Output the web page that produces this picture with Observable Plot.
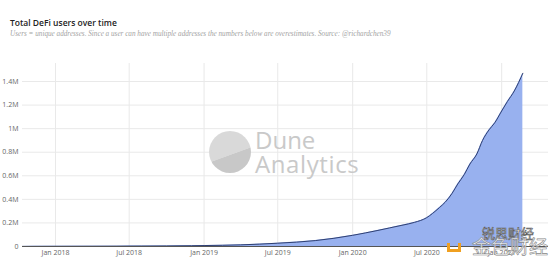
<!DOCTYPE html>
<html>
<head>
<meta charset="utf-8">
<script src="https://cdn.jsdelivr.net/npm/d3@7"></script>
<script src="https://cdn.jsdelivr.net/npm/@observablehq/plot@0.6"></script>
<style>
  html, body { margin: 0; padding: 0; background: #fff; }
  #wrap { position: relative; width: 550px; height: 261px; overflow: hidden; font-family: "Open Sans", "DejaVu Sans", sans-serif; }
  #head { height: 45px; box-sizing: border-box; padding: 17px 0 0 10px; }
  #title { font-size: 8.5px; font-weight: 600; color: #222; line-height: 11px; }
  #subtitle { font-family: "Liberation Serif", serif; font-style: italic; font-size: 7.2px; color: #a3a3a3; line-height: 10px; margin-top: 1px; }
  .wm { position: absolute; color: #c9c9c9; font-family: "Open Sans", Roboto, sans-serif; font-weight: 400; line-height: 1; }
  #logo { position: absolute; left: 209px; top: 131px; width: 42px; height: 42px; border-radius: 50%; overflow: hidden;
          background: linear-gradient(160deg, #d9d9d9 0%, #d9d9d9 55%, #c8c8c8 56%, #c8c8c8 100%); }
  .cn { position: absolute; font-family: "Noto Sans CJK SC", sans-serif; line-height: 1; }
</style>
</head>
<body>
<div id="wrap">
  <div id="head">
    <div id="title">Total DeFi users over time</div>
    <div id="subtitle">Users = unique addresses. Since a user can have multiple addresses the numbers below are overestimates. Source: @richardchen39</div>
  </div>
  <div id="chart"></div>
  <div id="logo"></div>
  <div class="wm" style="left:255px; top:128px; font-size:24px; height:23px;">Dune</div>
  <div class="wm" style="left:255px; top:152px; font-size:24px; letter-spacing:0.6px;">Analytics</div>
  <div class="cn" style="left:482px; top:226px; font-size:13px; color:#fff; -webkit-text-stroke:0.6px #555;">锐思财经</div>
  <div class="cn" style="left:472px; top:236px; font-size:19px; color:rgba(255,255,255,0.85); -webkit-text-stroke:0.6px #888;">金色财经</div>
  <div style="position:absolute; left:447px; top:243px; width:14px; height:9px; border:3px solid #f0a020; border-top:none; box-sizing:border-box;"></div>
</div>
<script>
const dates = ["2017-10-12","2017-12-01","2018-02-01","2018-04-01","2018-06-01","2018-08-01","2018-10-01","2018-12-01",
  "2019-01-01","2019-04-01","2019-07-01","2019-10-01","2020-01-01","2020-02-01","2020-03-01","2020-04-01","2020-05-01",
  "2020-06-01","2020-07-01","2020-07-15","2020-08-01","2020-08-15","2020-09-01","2020-09-15","2020-10-01","2020-10-15",
  "2020-11-01","2020-11-15","2020-12-01","2020-12-15","2021-01-01","2021-01-15","2021-02-01","2021-02-22"];
const users = [1000,1500,2000,2500,3000,3800,4800,6500,
  8000,14000,28000,50000,95000,115000,135000,158000,180000,
  205000,245000,280000,330000,375000,450000,530000,610000,700000,
  785000,900000,990000,1050000,1150000,1230000,1320000,1470000];
const yTicks = [0,200000,400000,600000,800000,1000000,1200000,1400000];
const yTickLabels = ["0","0.2M","0.4M","0.6M","0.8M","1M","1.2M","1.4M"];
const xTicks = ["2018-01-01","2018-07-01","2019-01-01","2019-07-01","2020-01-01","2020-07-01","2021-01-01"];
const xTickLabels = ["Jan 2018","Jul 2018","Jan 2019","Jul 2019","Jan 2020","Jul 2020","Jan 2021"];

const data = dates.map((d, i) => ({date: new Date(d), users: users[i]}));
const xt = xTicks.map(d => new Date(d));
const ylab = new Map(yTicks.map((v, i) => [v, yTickLabels[i]]));
const xlab = new Map(xt.map((d, i) => [+d, xTickLabels[i]]));

const chart = Plot.plot({
  width: 550,
  height: 216,
  marginLeft: 22,
  marginRight: 2,
  marginTop: 18,
  marginBottom: 15,
  style: {fontFamily: "'Open Sans', 'DejaVu Sans', sans-serif", fontSize: "7px", color: "#666", background: "transparent"},
  x: {type: "utc", domain: [new Date("2017-10-12"), new Date("2021-04-26")], ticks: xt, tickFormat: d => xlab.get(+d), tickSize: 0, tickPadding: 4, label: null},
  y: {domain: [0, 1553000], ticks: yTicks, tickFormat: v => ylab.get(v), tickSize: 0, tickPadding: 4, label: null},
  marks: [
    Plot.gridX(xt, {stroke: "#e9e9e9", strokeOpacity: 1, strokeWidth: 1}),
    Plot.gridY(yTicks.slice(1), {stroke: "#e9e9e9", strokeOpacity: 1, strokeWidth: 1}),
    Plot.areaY(data, {x: "date", y: "users", fill: "#98b1ef", fillOpacity: 1, curve: "monotone-x"}),
    Plot.lineY(data, {x: "date", y: "users", stroke: "#2e3f72", strokeWidth: 1, curve: "monotone-x"}),
    Plot.ruleY([0], {stroke: "#555", strokeWidth: 1})
  ]
});
document.getElementById("chart").appendChild(chart);
</script>
</body>
</html>
